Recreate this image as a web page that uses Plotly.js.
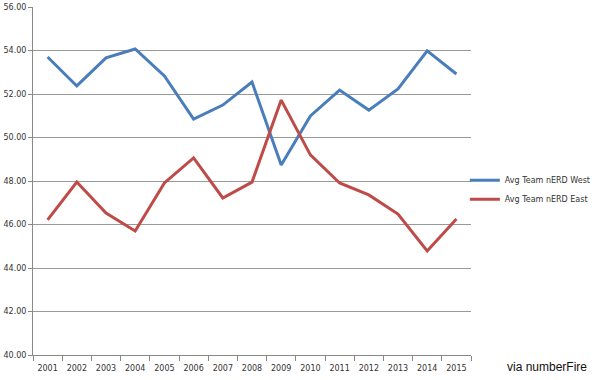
<!DOCTYPE html>
<html><head><meta charset="utf-8">
<script src="https://cdn.plot.ly/plotly-3.0.1.min.js"></script>
<style>html,body{margin:0;padding:0;background:#fff;}#chart{width:600px;height:380px;}</style>
</head><body><div id="chart"></div>
<script>
const years = ["2001","2002","2003","2004","2005","2006","2007","2008","2009","2010","2011","2012","2013","2014","2015"];
const west = [53.70,52.37,53.66,54.07,52.83,50.85,51.49,52.55,48.74,50.99,52.18,51.26,52.23,53.98,52.92];
const east = [46.21,47.95,46.53,45.70,47.91,49.06,47.22,47.95,51.72,49.20,47.91,47.36,46.48,44.78,46.25];
const seriesNames = ["Avg Team nERD West","Avg Team nERD East"];
const yTicks = [40,42,44,46,48,50,52,54,56];

const traces = [
  {x: years, y: west, name: seriesNames[0], type: "scatter", mode: "lines", line: {color: "#4A7EBB", width: 3}},
  {x: years, y: east, name: seriesNames[1], type: "scatter", mode: "lines", line: {color: "#BE4B48", width: 3}}
];
const layout = {
  width: 600, height: 380,
  margin: {l: 33, r: 129, t: 7, b: 25, autoexpand: false},
  paper_bgcolor: "#fff", plot_bgcolor: "#fff",
  font: {family: "DejaVu Sans, sans-serif", size: 8, color: "#333"},
  showlegend: true,
  legend: {x: 0.986, y: 0.475, xanchor: "left", yanchor: "middle", font: {size: 8, color: "#333"}, bgcolor: "rgba(0,0,0,0)", itemwidth: 30},
  xaxis: {
    type: "category", range: [-0.5, 14.5], showgrid: false, showline: true, linecolor: "#888", linewidth: 1,
    ticks: "outside", tickson: "boundaries", ticklen: 5, tickcolor: "#888",
    ticklabelstandoff: 5, tickangle: 0, automargin: false,
    tickfont: {size: 8, color: "#333"}, fixedrange: true
  },
  yaxis: {
    range: [40, 56], tickvals: yTicks, ticktext: yTicks.map(v => v.toFixed(2)),
    showgrid: true, gridcolor: "#999", gridwidth: 1, zeroline: false, automargin: false,
    showline: true, linecolor: "#888", ticks: "outside", ticklen: 4, tickcolor: "#888",
    tickfont: {size: 8, color: "#333"}, fixedrange: true
  },
  annotations: [{
    text: "via numberFire", xref: "paper", yref: "paper", x: 1.078, y: -0.034,
    xanchor: "left", yanchor: "middle", showarrow: false,
    font: {family: "Liberation Sans, Arial, sans-serif", size: 12, color: "#111"}
  }]
};
Plotly.newPlot("chart", traces, layout, {displayModeBar: false, staticPlot: true});
</script></body></html>
